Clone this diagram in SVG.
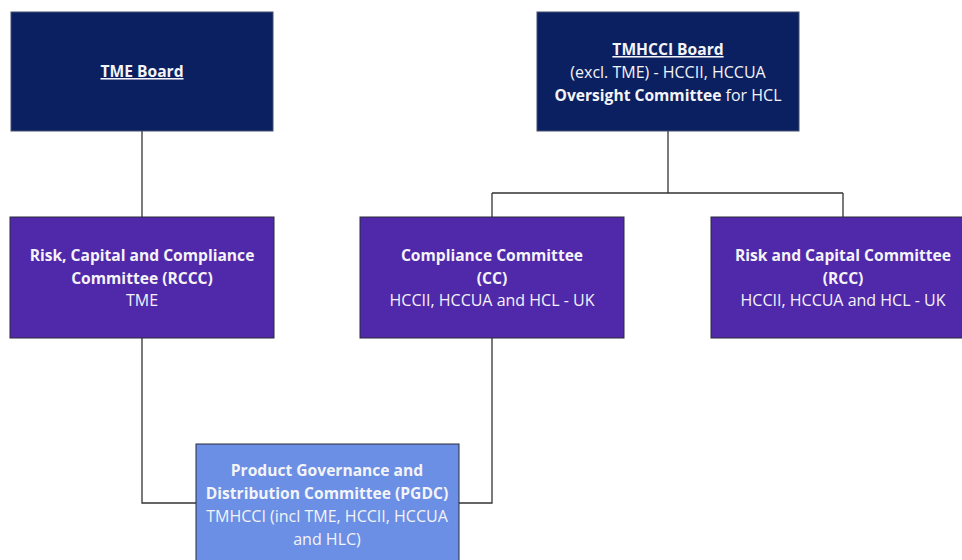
<svg xmlns="http://www.w3.org/2000/svg" width="962" height="560" viewBox="0 0 962 560">
<style>
.navy{fill:#0b2060;stroke:#44506e;stroke-width:1}
.purple{fill:#5028aa;stroke:#2a2a3a;stroke-width:1}
.blue{fill:#6a8fe4;stroke:#2a2a3a;stroke-width:1}
text{font-family:"Open Sans","Liberation Sans",sans-serif;font-size:16px;fill:#f4f4f8;text-anchor:middle}
.b{font-weight:bold;font-size:15.6px}
.u{text-decoration:underline}
.conn{fill:none;stroke:#333333;stroke-width:1.3}
</style>
<rect width="962" height="560" fill="#ffffff"/>
<g id="connectors">
<path class="conn" d="M142,131 V217"/>
<path class="conn" d="M668,131 V193 M492,193 H843 M492,193 V217 M843,193 V217"/>
<path class="conn" d="M142,338 V503 H196"/>
<path class="conn" d="M492,338 V503 H459"/>
</g>
<g id="tme-board">
<rect class="navy" x="11" y="12" width="262" height="119"/>
<text x="142" y="77" class="b u">TME Board</text>
</g>
<g id="tmhcci-board">
<rect class="navy" x="537" y="12" width="262" height="119"/>
<text x="668" y="55" class="b u">TMHCCI Board</text>
<text x="668" y="78">(excl. TME) - HCCII, HCCUA</text>
<text x="668" y="101"><tspan class="b">Oversight Committee</tspan> for HCL</text>
</g>
<g id="rccc">
<rect class="purple" x="10" y="217" width="264" height="121"/>
<text x="142" y="261" class="b">Risk, Capital and Compliance</text>
<text x="142" y="284" class="b">Committee (RCCC)</text>
<text x="142" y="306">TME</text>
</g>
<g id="cc">
<rect class="purple" x="360" y="217" width="264" height="121"/>
<text x="492" y="261" class="b">Compliance Committee</text>
<text x="492" y="284" class="b">(CC)</text>
<text x="492" y="306">HCCII, HCCUA and HCL - UK</text>
</g>
<g id="rcc">
<rect class="purple" x="711" y="217" width="264" height="121"/>
<text x="843" y="261" class="b">Risk and Capital Committee</text>
<text x="843" y="284" class="b">(RCC)</text>
<text x="843" y="306">HCCII, HCCUA and HCL - UK</text>
</g>
<g id="pgdc">
<rect class="blue" x="196" y="444" width="263" height="130"/>
<text x="327" y="476" class="b">Product Governance and</text>
<text x="327" y="499" class="b">Distribution Committee (PGDC)</text>
<text x="327" y="522">TMHCCI (incl TME, HCCII, HCCUA</text>
<text x="327" y="545">and HLC)</text>
</g>
</svg>
